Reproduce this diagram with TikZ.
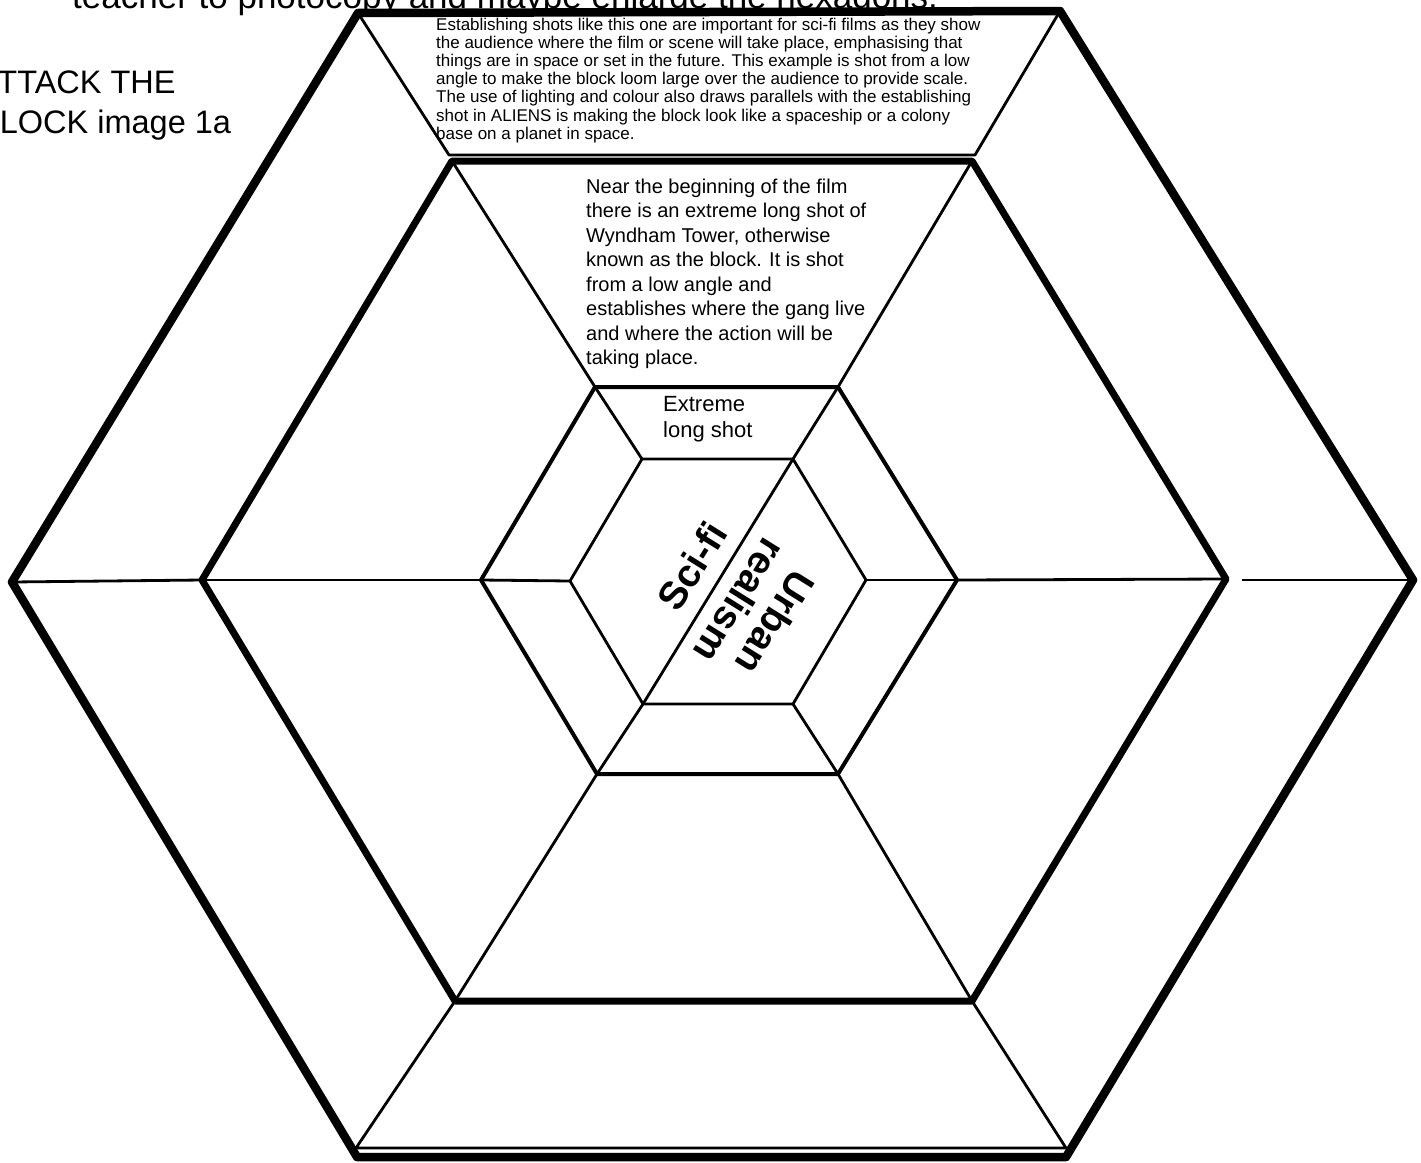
\documentclass[tikz,border=0pt]{standalone}
\usepackage{fontspec}
\setmainfont{Liberation Sans}
\begin{document}
\begin{tikzpicture}[x=1pt,y=-1pt, line join=round,
  outerline/.style={line width=8.5pt},
  secondline/.style={line width=7pt},
  thirdline/.style={line width=4pt},
  thinline/.style={line width=2.8pt},
  bodytext/.style={inner sep=0pt, anchor=north west, align=left},
  bigtext/.style={inner sep=0pt, anchor=base west, font=\fontsize{32.5}{40}\selectfont},
  hexlabel/.style={inner sep=0pt, font=\bfseries\fontsize{39}{41}\selectfont, align=center}
]
\useasboundingbox (0,0) rectangle (1421,1162);
\clip (0,0) rectangle (1421,1162);

% outer hexagon
\coordinate (O1) at (358,13);
\coordinate (O2) at (1060,11);
\coordinate (O3) at (1413,580);
\coordinate (O4) at (1066,1157);
\coordinate (O5) at (357,1157);
\coordinate (O6) at (12,582);
% second hexagon
\coordinate (S1) at (452,161);
\coordinate (S2) at (972,161);
\coordinate (S3) at (1226,579);
\coordinate (S4) at (972,1001);
\coordinate (S5) at (455,1001);
\coordinate (S6) at (202,580);
% third hexagon
\coordinate (T1) at (595,387);
\coordinate (T2) at (838,387);
\coordinate (T3) at (957,580);
\coordinate (T4) at (838,774);
\coordinate (T5) at (597,774);
\coordinate (T6) at (481,580);
% inner hexagon
\coordinate (I1) at (642,459);
\coordinate (I2) at (793,459);
\coordinate (I3) at (866,580);
\coordinate (I4) at (793,704);
\coordinate (I5) at (643,704);
\coordinate (I6) at (570,581);
% extra corners
\coordinate (a1) at (449,155);
\coordinate (a2) at (975,155);
\coordinate (b1) at (356,1148);
\coordinate (b2) at (1066,1148);
\coordinate (gapR) at (1242,580);

% texts
\node[bigtext, font=\fontsize{35}{40}\selectfont] (note) at (72,8) {teacher to photocopy and maybe enlarge the hexagons.};
\node[bigtext] (title1) at (-22,93) {ATTACK THE};
\node[bigtext] (title2) at (-22,133) {BLOCK image 1a};

\node[bodytext, font=\fontsize{17}{18.2}\selectfont] (estab) at (436,17.5) {Establishing shots like this one are important for sci-fi films as they show\\
the audience where the film or scene will take place, emphasising that\\
things are in space or set in the future. This example is shot from a low\\
angle to make the block loom large over the audience to provide scale.\\
The use of lighting and colour also draws parallels with the establishing\\
shot in ALIENS is making the block look like a spaceship or a colony\\
base on a planet in space.};

\node[bodytext, font=\fontsize{20}{24.5}\selectfont] (near) at (586,178.5) {Near the beginning of the film\\
there is an extreme long shot of\\
Wyndham Tower, otherwise\\
known as the block. It is shot\\
from a low angle and\\
establishes where the gang live\\
and where the action will be\\
taking place.};

\node[bodytext, font=\fontsize{22}{26}\selectfont] (els) at (663,396) {Extreme\\long shot};

\node[hexlabel, rotate=58] (scifi) at (692,566) {Sci-fi};
\node[hexlabel, rotate=-122] (urban) at (758,612) {Urban\\realism};

% thin connectors
\draw[thinline] (O1) -- (a1) -- (a2) -- (O2);
\draw[thinline] (S5) -- (b1) -- (b2) -- (S4);
\draw[thinline] (O6) -- (S6);
\draw[thinline] (gapR) -- (O3);
\draw[thinline] (S1) -- (T1);
\draw[thinline] (S2) -- (T2);
\draw[thinline] (S6) -- (T6);
\draw[thinline] (S3) -- (T3);
\draw[thinline] (S5) -- (T5);
\draw[thinline] (S4) -- (T4);
\draw[thinline] (T1) -- (I1);
\draw[thinline] (T2) -- (I2);
\draw[thinline] (T3) -- (I3);
\draw[thinline] (T6) -- (I6);
\draw[thinline] (T5) -- (I5);
\draw[thinline] (T4) -- (I4);
\draw[thinline] (I2) -- (I5);
\draw[thinline] (I1) -- (I2) -- (I3) -- (I4) -- (I5) -- (I6) -- cycle;

% hexagons
\draw[thirdline] (T1) -- (T2) -- (T3) -- (T4) -- (T5) -- (T6) -- cycle;
\draw[secondline] (S1) -- (S2) -- (S3) -- (S4) -- (S5) -- (S6) -- cycle;
\draw[outerline] (O1) -- (O2) -- (O3) -- (O4) -- (O5) -- (O6) -- cycle;
\end{tikzpicture}
\end{document}
